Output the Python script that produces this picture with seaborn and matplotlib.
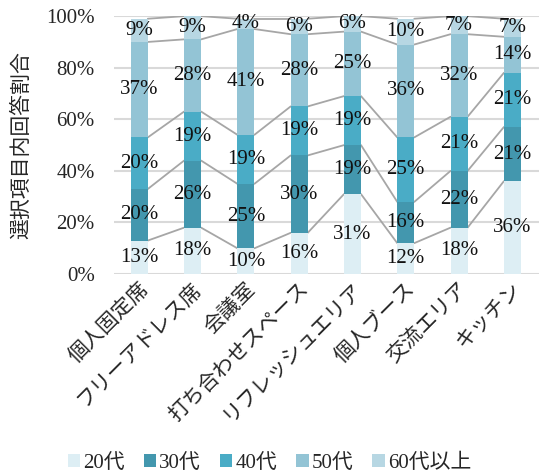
import matplotlib
matplotlib.use("Agg")
import matplotlib.pyplot as plt
import seaborn as sns
import pandas as pd
import numpy as np
from matplotlib.patches import Patch

# data
categories = ["個人固定席", "フリーアドレス席", "会議室", "打ち合わせスペース",
              "リフレッシュエリア", "個人ブース", "交流エリア", "キッチン"]
ages = ["20代", "30代", "40代", "50代", "60代以上"]
v20 = [13, 18, 10, 16, 31, 12, 18, 36]
v30 = [20, 26, 25, 30, 19, 16, 22, 21]
v40 = [20, 19, 19, 19, 19, 25, 21, 21]
v50 = [37, 28, 41, 28, 25, 36, 32, 14]
v60 = [9, 9, 4, 6, 6, 10, 7, 7]
colors = ["#ddeef4", "#4397ae", "#4aacc6", "#93c4d5", "#b7d7e3"]

series = [v20, v30, v40, v50, v60]

sns.set_theme(style="white")
FAM = ["Liberation Serif", "Noto Sans CJK JP"]
plt.rcParams["font.family"] = FAM

fig = plt.figure(figsize=(5.39, 4.75), dpi=100)
ax = fig.add_axes([0.212, 0.423, 0.788, 0.543])

bw = 0.32
bottom = np.zeros(len(categories))
tops = []
for name, vals, col in zip(ages, series, colors):
    df = pd.DataFrame({"cat": categories, "val": vals})
    sns.barplot(data=df, x="cat", y="val", color=col, width=bw,
                bottom=bottom, ax=ax, saturation=1, edgecolor="none", zorder=3)
    for i, v in enumerate(vals):
        ax.text(i, bottom[i] + v / 2, f"{v}%", ha="center", va="center",
                fontsize=15, color="#111111", zorder=5)
    bottom = bottom + np.array(vals)
    tops.append(bottom.copy())

# series lines between bars
for t in tops:
    for i in range(len(categories) - 1):
        ax.plot([i + bw / 2, i + 1 - bw / 2], [t[i], t[i + 1]],
                color="#a6a6a6", lw=1.3, zorder=2)

ax.set_ylim(0, 100)
ax.set_xlim(-0.47, 7.5)
ax.set_yticks(range(0, 101, 20))
ax.set_yticklabels([f"{y}%" for y in range(0, 101, 20)], fontsize=15)
ax.yaxis.grid(True, color="#d9d9d9", lw=1.5, zorder=0)
ax.set_axisbelow(True)
ax.tick_params(axis="y", length=0, pad=14)
ax.tick_params(axis="x", length=0, pad=4)
ax.set_xticks(range(len(categories)))
ax.set_xticklabels(categories, rotation=45, ha="right", rotation_mode="anchor",
                   fontsize=15)
ax.set_xlabel("")
ax.set_ylabel("選択項目内回答割合", fontsize=15, labelpad=10)
for s in ax.spines.values():
    s.set_visible(False)

handles = [Patch(facecolor=c, edgecolor="none") for c in colors]
fig.legend(handles, ages, loc="lower center", bbox_to_anchor=(0.5, -0.035), ncol=5,
           frameon=False, prop={"family": FAM, "size": 15}, handlelength=0.6,
           handleheight=0.6, handletextpad=0.15, columnspacing=0.9)

fig.savefig("out.png", dpi=100)
